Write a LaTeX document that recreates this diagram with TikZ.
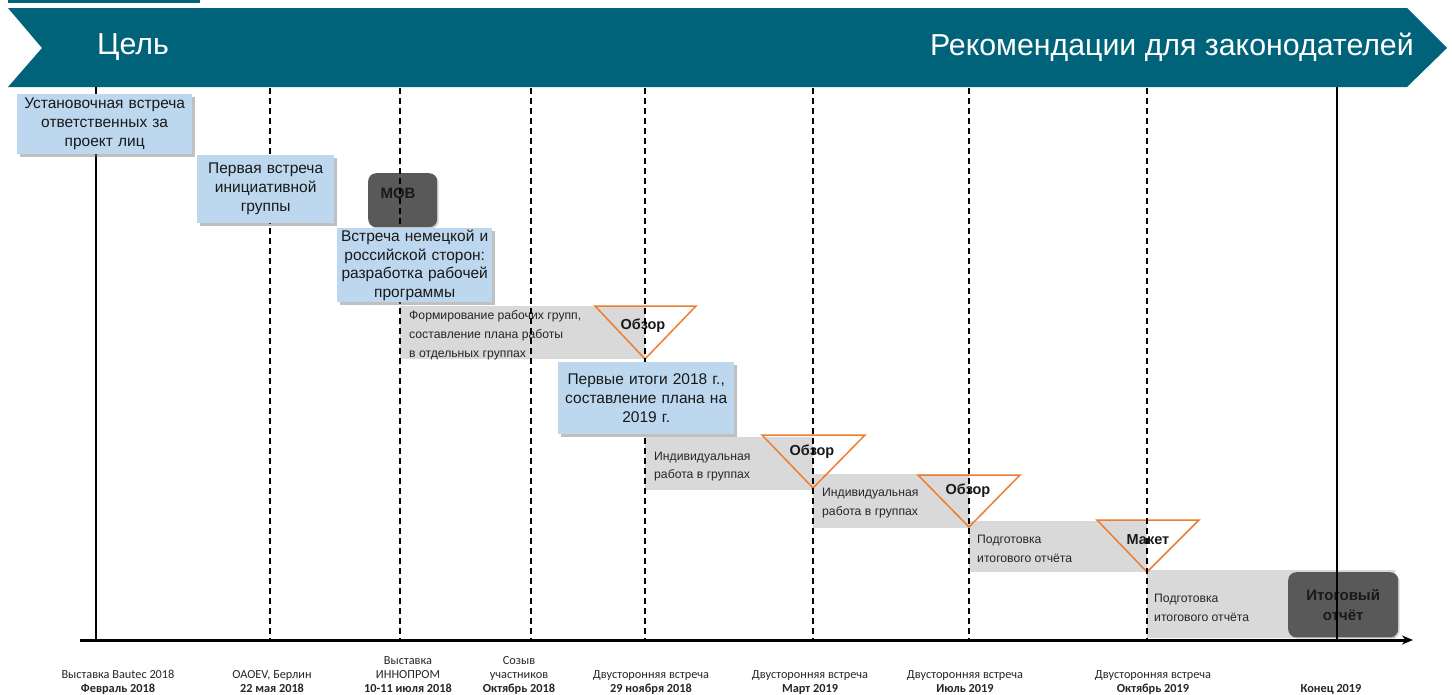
\documentclass[tikz,border=0pt]{standalone}
\usepackage{fontspec}
\setmainfont{Liberation Sans}
\newfontfamily\datefont{Carlito}
\usetikzlibrary{shadows,arrows.meta}
\definecolor{bannerteal}{RGB}{0,99,122}
\definecolor{boxblue}{RGB}{189,215,238}
\definecolor{bargray}{RGB}{217,217,217}
\definecolor{boxdark}{RGB}{89,89,89}
\definecolor{revieworange}{RGB}{237,125,49}

\begin{document}
\begin{tikzpicture}[x=1pt,y=-1pt,
    bannertext/.style={text=white,inner sep=0pt,font=\fontsize{30.3}{35}\selectfont},
    bluebox/.style={fill=boxblue,anchor=north west,align=center,inner sep=0pt,
      text=black!90,font=\fontsize{15.5}{19}\selectfont,
      drop shadow={shadow xshift=3pt,shadow yshift=-3pt,opacity=0.45,fill=black!55}},
    graybar/.style={fill=bargray,anchor=north west,inner sep=0pt},
    bartext/.style={anchor=west,align=left,inner sep=0pt,text=black!85,
      font=\fontsize{12.2}{18.7}\selectfont},
    darkbox/.style={fill=boxdark,anchor=north west,inner sep=0pt,rounded corners=8pt,
      align=center,text=black!90,font=\bfseries\fontsize{15}{20}\selectfont,
      drop shadow={shadow xshift=1.5pt,shadow yshift=-1.5pt,opacity=0.35,fill=black!50}},
    darktext/.style={text=black!90,inner sep=0pt,font=\bfseries\fontsize{15}{18}\selectfont},
    reviewtri/.style={draw=revieworange,line width=1.5pt,line join=miter},
    reviewtext/.style={text=black!90,inner sep=0pt,font=\bfseries\fontsize{14.5}{17}\selectfont},
    datelabel/.style={align=center,anchor=south,inner sep=0pt,text=black!85,
      font=\datefont\fontsize{12.3}{13.7}\selectfont},
    solidguide/.style={line width=1.2pt,black},
    dashguide/.style={line width=1.4pt,black,dash pattern=on 6pt off 4pt},
    timeaxis/.style={line width=3pt,black,-{Stealth[length=11pt,width=9pt]}}]
  \useasboundingbox (0,0) rectangle (1452,694);

  \fill[bannerteal] (8,0) rectangle (200,3);
  \fill[bannerteal] (8,8) -- (1407,8) -- (1447,48) -- (1407,87) -- (8,87) -- (42,48) -- cycle;
  \node[bannertext,anchor=west] (goal) at (97,47) {Цель};
  \node[bannertext,anchor=east] (advice) at (1414,47) {Рекомендации для законодателей};

  \node[graybar,minimum width=245,minimum height=53] (groups) at (400,306) {};
  \node[graybar,minimum width=168,minimum height=53] (work1) at (645,437) {};
  \node[graybar,minimum width=156,minimum height=54] (work2) at (813,474) {};
  \node[graybar,minimum width=178,minimum height=51] (draft1) at (969,521) {};
  \node[graybar,minimum width=248,minimum height=68] (draft2) at (1147,570) {};
  \node[bartext] (groupstext) at ([xshift=9pt,yshift=-2.5pt]groups.west)
    {Формирование рабочих групп,\\составление плана работы\\в отдельных группах};
  \node[bartext] (work1text) at ([xshift=9pt,yshift=-3pt]work1.west)
    {Индивидуальная\\работа в группах};
  \node[bartext] (work2text) at ([xshift=9pt,yshift=-2pt]work2.west)
    {Индивидуальная\\работа в группах};
  \node[bartext] (draft1text) at ([xshift=8pt,yshift=-2pt]draft1.west)
    {Подготовка\\итогового отчёта};
  \node[bartext] (draft2text) at ([xshift=7pt,yshift=-3.5pt]draft2.west)
    {Подготовка\\итогового отчёта};

  \node[darkbox,minimum width=69,minimum height=54] (mob) at (368,173) {};
  \node[darktext] (mobtext) at (398,193) {МОВ};
  \node[darkbox,minimum width=110,minimum height=65] (report) at (1288,572) {Итоговый\\отчёт};

  \draw[reviewtri] (595,306) -- (696,306) -- (645,359) -- cycle;
  \draw[reviewtri] (762,435) -- (865,435) -- (813,488) -- cycle;
  \draw[reviewtri] (918,475) -- (1020,475) -- (969,527) -- cycle;
  \draw[reviewtri] (1097,520) -- (1199,520) -- (1147,572) -- cycle;
  \node[reviewtext] (review1) at (643,326) {Обзор};
  \node[reviewtext] (review2) at (812,452) {Обзор};
  \node[reviewtext] (review3) at (968,491) {Обзор};
  \node[reviewtext] (mockup) at (1148,540) {Макет};

  \path
    (96,87) coordinate (s0)    (96,640) coordinate (e0)
    (270,88) coordinate (s1)   (270,640) coordinate (e1)
    (400,88) coordinate (s2)   (400,640) coordinate (e2)
    (531,88) coordinate (s3)   (531,640) coordinate (e3)
    (645,88) coordinate (s4)   (645,640) coordinate (e4)
    (813,88) coordinate (s5)   (813,640) coordinate (e5)
    (969,88) coordinate (s6)   (969,640) coordinate (e6)
    (1147,88) coordinate (s7)  (1147,640) coordinate (e7)
    (1337,87) coordinate (s8)  (1337,640) coordinate (e8)
    (80,640) coordinate (axisstart) (1413,640) coordinate (axisend);
  \begin{scope}[solidguide]
    \draw (s0) to (e0);
    \draw (s8) to (e8);
  \end{scope}
  \begin{scope}[dashguide]
    \draw (s1) to (e1);
    \draw (s2) to (e2);
    \draw (s3) to (e3);
    \draw (s4) to (e4);
    \draw (s5) to (e5);
    \draw (s6) to (e6);
    \draw (s7) to (e7);
  \end{scope}
  \draw[timeaxis] (axisstart) to (axisend);

  \node[bluebox,minimum height=60,text width=175] (kickoff) at (17,94)
    {Установочная встреча\\ответственных за\\проект лиц};
  \node[bluebox,minimum height=68,text width=137] (initiative) at (197,155)
    {Первая встреча\\инициативной\\группы};
  \node[bluebox,minimum height=74,text width=155,font=\fontsize{15.5}{18.5}\selectfont] (program) at (337,228)
    {Встреча немецкой и\\российской сторон:\\разработка рабочей\\программы};
  \node[bluebox,minimum height=72,text width=176] (results) at (558,362)
    {Первые итоги 2018 г.,\\составление плана на\\2019 г.};

  \path
    (118,696.5) node[datelabel] (d0) {Выставка Bautec 2018\\\textbf{Февраль 2018}\strut}
    (272,696.5) node[datelabel] (d1) {OAOEV, Берлин\\\textbf{22 мая 2018}\strut}
    (408,696.5) node[datelabel] (d2) {Выставка\\ИННОПРОМ\\\textbf{10-11 июля 2018}\strut}
    (519,696.5) node[datelabel] (d3) {Созыв\\участников\\\textbf{Октябрь 2018}\strut}
    (651,696.5) node[datelabel] (d4) {Двусторонняя встреча\\\textbf{29 ноября 2018}\strut}
    (810,696.5) node[datelabel] (d5) {Двусторонняя встреча\\\textbf{Март 2019}\strut}
    (965,696.5) node[datelabel] (d6) {Двусторонняя встреча\\\textbf{Июль 2019}\strut}
    (1153,696.5) node[datelabel] (d7) {Двусторонняя встреча\\\textbf{Октябрь 2019}\strut}
    (1331,696.5) node[datelabel] (d8) {\textbf{Конец 2019}\strut};
\end{tikzpicture}
\end{document}
